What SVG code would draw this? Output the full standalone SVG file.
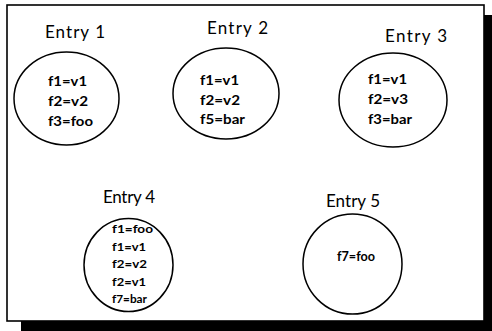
<svg xmlns="http://www.w3.org/2000/svg" width="492" height="331" viewBox="0 0 492 331">
  <style>
    .frame { fill: #ffffff; stroke: #000000; stroke-width: 1.6; }
    .shadow { fill: #000000; }
    .entry { fill: none; stroke: #000000; stroke-width: 1.5; }
    .title { font-family: Lato, "Liberation Sans", sans-serif; font-size: 17px; fill: #000000; }
    .field { font-family: Lato, "Liberation Sans", sans-serif; font-size: 13.5px; font-weight: bold; fill: #000000; }
    .field-sm { font-family: Lato, "Liberation Sans", sans-serif; font-size: 11.5px; font-weight: bold; fill: #000000; }
  </style>

  <!-- drop shadow and outer frame -->
  <rect class="shadow" x="21" y="15" width="471" height="316"/>
  <rect class="frame" x="7" y="5" width="477" height="316"/>

  <g id="entry1">
    <text class="title" x="45" y="38" textLength="60" lengthAdjust="spacing">Entry 1</text>
    <ellipse class="entry" cx="66.5" cy="98.5" rx="52.5" ry="46.5"/>
    <text class="field" x="48" y="86" textLength="39" lengthAdjust="spacingAndGlyphs">f1=v1</text>
    <text class="field" x="48" y="106" textLength="40" lengthAdjust="spacingAndGlyphs">f2=v2</text>
    <text class="field" x="48" y="126" textLength="45" lengthAdjust="spacingAndGlyphs">f3=foo</text>
  </g>

  <g id="entry2">
    <text class="title" x="207" y="34" textLength="61" lengthAdjust="spacing">Entry 2</text>
    <ellipse class="entry" cx="226" cy="93.5" rx="53" ry="45.5"/>
    <text class="field" x="200" y="85" textLength="39" lengthAdjust="spacingAndGlyphs">f1=v1</text>
    <text class="field" x="200" y="105" textLength="40" lengthAdjust="spacingAndGlyphs">f2=v2</text>
    <text class="field" x="200" y="124" textLength="45" lengthAdjust="spacingAndGlyphs">f5=bar</text>
  </g>

  <g id="entry3">
    <text class="title" x="385" y="42" textLength="62" lengthAdjust="spacing">Entry 3</text>
    <ellipse class="entry" cx="393" cy="100" rx="54" ry="47"/>
    <text class="field" x="368" y="84" textLength="39" lengthAdjust="spacingAndGlyphs">f1=v1</text>
    <text class="field" x="368" y="104" textLength="40" lengthAdjust="spacingAndGlyphs">f2=v3</text>
    <text class="field" x="368" y="124" textLength="44" lengthAdjust="spacingAndGlyphs">f3=bar</text>
  </g>

  <g id="entry4">
    <text class="title" x="103" y="203" textLength="52" lengthAdjust="spacing">Entry 4</text>
    <ellipse class="entry" cx="128.5" cy="265" rx="44.5" ry="46.5"/>
    <text class="field-sm" x="112" y="233" textLength="41" lengthAdjust="spacingAndGlyphs">f1=foo</text>
    <text class="field-sm" x="112" y="250.5" textLength="34" lengthAdjust="spacingAndGlyphs">f1=v1</text>
    <text class="field-sm" x="112" y="268" textLength="35" lengthAdjust="spacingAndGlyphs">f2=v2</text>
    <text class="field-sm" x="112" y="285.5" textLength="34" lengthAdjust="spacingAndGlyphs">f2=v1</text>
    <text class="field-sm" x="112" y="303" textLength="35" lengthAdjust="spacingAndGlyphs">f7=bar</text>
  </g>

  <g id="entry5">
    <text class="title" x="326" y="207" textLength="54" lengthAdjust="spacing">Entry 5</text>
    <ellipse class="entry" cx="352.5" cy="264" rx="49.5" ry="50"/>
    <text class="field" x="337" y="261" textLength="38" lengthAdjust="spacingAndGlyphs">f7=foo</text>
  </g>

  <g id="connectors"/>
</svg>
